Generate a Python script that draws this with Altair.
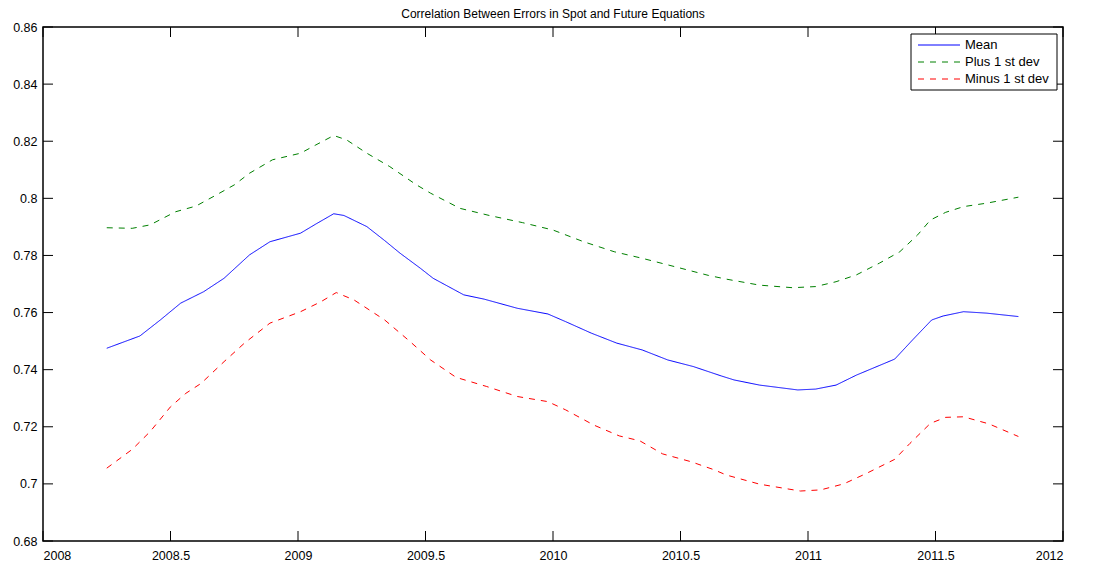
import altair as alt
import pandas as pd

# ---- data ----
mean_years = [2008.25, 2008.38, 2008.46, 2008.54, 2008.63, 2008.71, 2008.81, 2008.89,
              2009.01, 2009.07, 2009.14, 2009.18, 2009.27, 2009.34, 2009.40, 2009.48,
              2009.53, 2009.65, 2009.73, 2009.86, 2009.98, 2010.05, 2010.15, 2010.25,
              2010.35, 2010.45, 2010.55, 2010.66, 2010.71, 2010.81, 2010.96, 2011.03,
              2011.11, 2011.19, 2011.34, 2011.41, 2011.485, 2011.53, 2011.61, 2011.70,
              2011.825]
mean_vals = [0.7475, 0.7518, 0.7574, 0.7633, 0.7673, 0.7720, 0.7802, 0.7848,
             0.7878, 0.7910, 0.7946, 0.7940, 0.7901, 0.7852, 0.7808, 0.7755,
             0.7720, 0.7662, 0.7647, 0.7615, 0.7595, 0.7568, 0.7528, 0.7493,
             0.7469, 0.7434, 0.7411, 0.7378, 0.7364, 0.7346, 0.7329, 0.7332,
             0.7346, 0.7381, 0.7437, 0.7504, 0.7574, 0.7588, 0.7603, 0.7598,
             0.7586]

plus_years = [2008.25, 2008.35, 2008.42, 2008.52, 2008.60, 2008.68, 2008.75, 2008.81,
              2008.90, 2009.01, 2009.07, 2009.14, 2009.19, 2009.27, 2009.36, 2009.465,
              2009.52, 2009.635, 2009.75, 2009.88, 2010.00, 2010.12, 2010.24, 2010.35,
              2010.485, 2010.61, 2010.68, 2010.81, 2010.94, 2011.03, 2011.11, 2011.19,
              2011.28, 2011.36, 2011.43, 2011.48, 2011.54, 2011.61, 2011.70, 2011.825]
plus_vals = [0.7897, 0.7895, 0.7907, 0.7953, 0.7973, 0.8012, 0.8047, 0.8088,
             0.8135, 0.8158, 0.8187, 0.8220, 0.8205, 0.8158, 0.8111, 0.8047,
             0.8018, 0.7965, 0.7940, 0.7915, 0.7889, 0.7848, 0.7813, 0.7790,
             0.7759, 0.7730, 0.7717, 0.7696, 0.7687, 0.7691, 0.7708, 0.7732,
             0.7773, 0.7813, 0.7872, 0.7924, 0.7951, 0.7971, 0.7983, 0.8004]

minus_years = [2008.25, 2008.35, 2008.42, 2008.50, 2008.56, 2008.62, 2008.71, 2008.79,
               2008.89, 2009.01, 2009.09, 2009.15, 2009.22, 2009.34, 2009.44, 2009.52,
               2009.62, 2009.74, 2009.86, 2009.98, 2010.05, 2010.16, 2010.26, 2010.34,
               2010.43, 2010.54, 2010.63, 2010.68, 2010.81, 2010.97, 2011.05, 2011.14,
               2011.23, 2011.34, 2011.40, 2011.48, 2011.54, 2011.61, 2011.71, 2011.825]
minus_vals = [0.7055, 0.7121, 0.7183, 0.7270, 0.7317, 0.7352, 0.7428, 0.7493,
              0.7563, 0.7603, 0.7638, 0.7670, 0.7644, 0.7574, 0.7498, 0.7434,
              0.7373, 0.7341, 0.7306, 0.7288, 0.7259, 0.7206, 0.7168, 0.7151,
              0.7105, 0.7078, 0.7050, 0.7031, 0.6999, 0.6975, 0.6979, 0.7000,
              0.7037, 0.7086, 0.7142, 0.7212, 0.7233, 0.7235, 0.7210, 0.7166]

series_names = ["Mean", "Plus 1 st dev", "Minus 1 st dev"]
series_colors = ["#0000ff", "#008000", "#ff0000"]
series_dash = [[1, 0], [6, 6], [6, 6]]

x_ticks = [2008, 2008.5, 2009, 2009.5, 2010, 2010.5, 2011, 2011.5, 2012]
y_ticks = [0.68, 0.70, 0.72, 0.74, 0.76, 0.78, 0.80, 0.82, 0.84, 0.86]

title_text = "Correlation Between Errors in Spot and Future Equations"

# ---- build table ----
rows = []
for name, xs, ys in zip(series_names,
                        [mean_years, plus_years, minus_years],
                        [mean_vals, plus_vals, minus_vals]):
    for i, (x, y) in enumerate(zip(xs, ys)):
        rows.append({"year": x, "value": y, "series": name, "order": i})
df = pd.DataFrame(rows)

W, H = 1020, 514
FONT = "Liberation Sans"

xscale = alt.Scale(domain=[2008, 2012], nice=False, zero=False)
yscale = alt.Scale(domain=[0.68, 0.86], nice=False, zero=False)

lines = alt.Chart(df).mark_line(strokeWidth=1, clip=True).encode(
    x=alt.X("year:Q", scale=xscale,
            axis=alt.Axis(values=x_ticks, format="~g", title=None, grid=False,
                          domain=False, ticks=False, labelPadding=8,
                          labelFont=FONT, labelFontSize=12.5, labelColor="black")),
    y=alt.Y("value:Q", scale=yscale,
            axis=alt.Axis(values=y_ticks, format="~g", title=None, grid=False,
                          domain=False, ticks=False, labelPadding=6,
                          labelFont=FONT, labelFontSize=12.5, labelColor="black")),
    color=alt.Color("series:N",
                    scale=alt.Scale(domain=series_names, range=series_colors),
                    legend=None),
    strokeDash=alt.StrokeDash("series:N",
                              scale=alt.Scale(domain=series_names, range=series_dash),
                              legend=None),
    order="order:Q",
)

ydf = pd.DataFrame({"v": y_ticks})
xdf = pd.DataFrame({"v": x_ticks})

yt_left = alt.Chart(ydf).mark_rule(color="black", strokeWidth=1).encode(
    y=alt.Y("v:Q", scale=yscale), x=alt.value(0), x2=alt.value(10))
yt_right = alt.Chart(ydf).mark_rule(color="black", strokeWidth=1).encode(
    y=alt.Y("v:Q", scale=yscale), x=alt.value(W - 10), x2=alt.value(W))
xt_bottom = alt.Chart(xdf).mark_rule(color="black", strokeWidth=1).encode(
    x=alt.X("v:Q", scale=xscale), y=alt.value(H - 10), y2=alt.value(H))
xt_top = alt.Chart(xdf).mark_rule(color="black", strokeWidth=1).encode(
    x=alt.X("v:Q", scale=xscale), y=alt.value(0), y2=alt.value(10))

# ---- manual MATLAB-style legend box ----
LX0, LX1, LY0, LY1 = 868, 1014, 7, 63
one = pd.DataFrame({"k": [0]})
legend_layers = [
    alt.Chart(one).mark_rect(fill="white", stroke="black", strokeWidth=1).encode(
        x=alt.value(LX0), x2=alt.value(LX1), y=alt.value(LY0), y2=alt.value(LY1))
]
for i, (name, col, dash) in enumerate(zip(series_names, series_colors, series_dash)):
    ry = LY0 + 11 + 17 * i
    legend_layers.append(
        alt.Chart(pd.DataFrame({"s": [name]})).mark_rule(
            color=col, strokeDash=dash, strokeWidth=1).encode(
            x=alt.value(LX0 + 7), x2=alt.value(LX0 + 49), y=alt.value(ry)))
    legend_layers.append(
        alt.Chart(pd.DataFrame({"s": [name]})).mark_text(
            align="left", baseline="middle", font=FONT, fontSize=13,
            color="black").encode(
            x=alt.value(LX0 + 54), y=alt.value(ry), text="s:N"))

chart = alt.layer(lines, yt_left, yt_right, xt_bottom, xt_top, *legend_layers).properties(
    width=W, height=H,
    background="white",
    title=alt.Title(title_text, fontSize=12, fontWeight="normal", font=FONT,
                    color="black", offset=0),
    autosize=alt.AutoSizeParams(type="none"),
    padding={"left": 35, "top": 19, "right": 25, "bottom": 20},
).configure_view(
    stroke="black", strokeWidth=1.5
)

chart.save("out.html", embed_options={"renderer": "svg", "actions": False})
